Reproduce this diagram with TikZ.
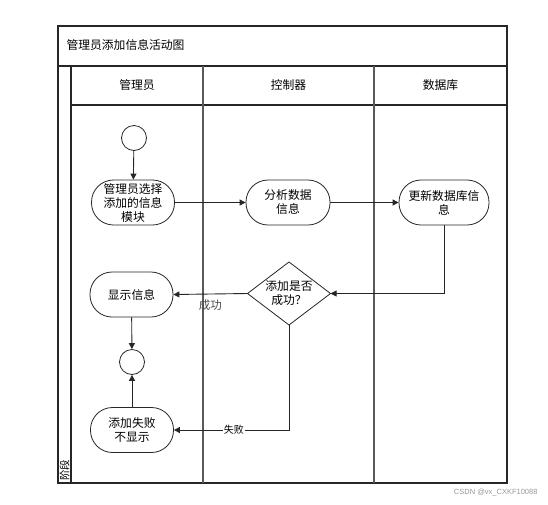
\documentclass[tikz,border=0pt]{standalone}
\usepackage{fontspec}
\setmainfont{Noto Sans CJK SC}
\newfontfamily\wmfont{Liberation Sans}
\usetikzlibrary{shapes.geometric,arrows.meta}
\begin{document}
\begin{tikzpicture}[x=1pt,y=-1pt,
 frame/.style={draw=black!85,line width=1.1pt},
 lane/.style={draw=black!65,line width=1.3pt},
 txt/.style={font=\fontsize{11.8}{14}\selectfont},
 actbox/.style={txt,draw=black!85,line width=0.8pt,rounded corners=22pt,minimum width=83pt,minimum height=45pt,inner sep=0pt,align=center},
 decbox/.style={txt,draw=black!85,line width=0.8pt,diamond,aspect=1.32,minimum width=83pt,minimum height=63pt,inner sep=0pt,outer sep=0pt,align=center},
 endpt/.style={circle,draw=black!85,line width=0.8pt,minimum size=25pt,inner sep=0pt},
 flow/.style={draw=black!85,line width=0.9pt,-{Triangle[length=6pt,width=6pt]}},
 lbl/.style={font=\fontsize{10}{12}\selectfont,inner sep=1pt}
]
\useasboundingbox (0,0) rectangle (548,504);
\fill[white] (0,0) rectangle (548,504);

% frame and lanes
\draw[frame] (58,26) rectangle (507,483);
\draw[frame] (58,66) -- (507,66);
\draw[frame] (71,66) -- (71,483);
\draw[frame] (71,105) -- (507,105);
\draw[lane] (203,66) -- (203,483);
\draw[lane] (374,66) -- (374,483);

\node[txt,anchor=west] (title) at (63,45) {管理员添加信息活动图};
\node[txt] (h1) at (137,85.5) {管理员};
\node[txt] (h2) at (288.5,85.5) {控制器};
\node[txt] (h3) at (440.5,85.5) {数据库};
\node[font=\fontsize{10.5}{12}\selectfont,rotate=90,anchor=west,inner sep=0pt] (stage) at (64.5,481) {阶段};

% nodes
\node[endpt] (start) at (134,138) {};
\node[actbox] (a1) at (133,202.5) {管理员选择\\添加的信息\\模块};
\node[actbox,minimum width=84pt] (a2) at (288,202.5) {分析数据\\信息};
\node[actbox,minimum width=90pt] (a3) at (444,202.5) {更新数据库信\\息};
\node[decbox] (dec) at (289,293.5) {添加是否\\成功？};
\node[actbox] (show) at (131.5,294.5) {显示信息};
\node[endpt] (fin) at (132,362) {};
\node[actbox] (fail) at (132,430) {添加失败\\不显示};

% connectors
\draw[flow] (start) -- (a1);
\draw[flow] (a1) -- (a2);
\draw[flow] (a2) -- (a3);
\draw[flow] (a3.south) |- (dec.east);
\draw[flow] (dec.west) -- node[pos=0.5,below=4pt,lbl,text=black!70,font=\fontsize{11.5}{13}\selectfont] (ok) {成功} (show.east);
\draw[flow] (dec.south) |- node[pos=0.74,lbl,fill=white] (ng) {失败} (fail.east);
\draw[flow] (show) -- (fin);
\draw[flow] (fail) -- (fin);

\node[font=\wmfont\fontsize{7.5}{9}\selectfont,text=black!40,anchor=east] (wm) at (541,493) {CSDN @vx\_CXKF10088};
\end{tikzpicture}
\end{document}
